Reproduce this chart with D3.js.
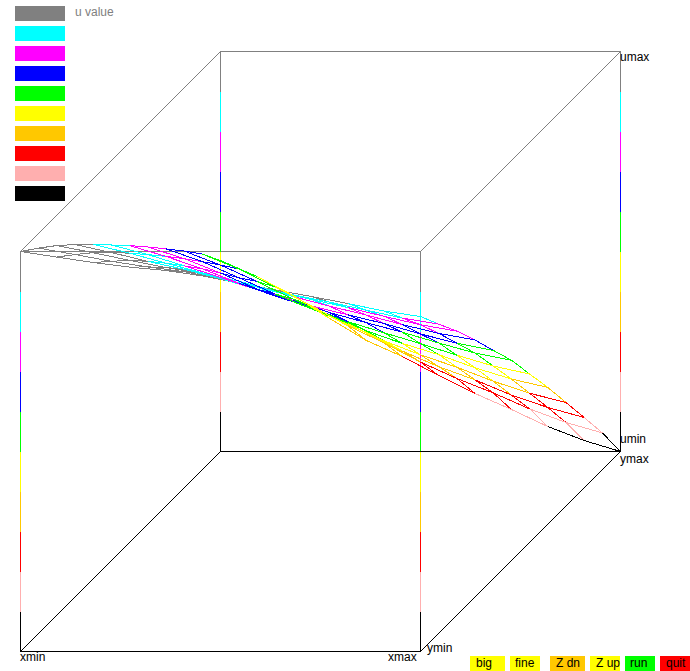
<!DOCTYPE html>
<html lang="en">
<head>
    <meta charset="UTF-8">
    <title>u value surface</title>
    <script src="https://cdn.jsdelivr.net/npm/d3@7"></script>
    <style>
        body { margin: 0; background: #fff; }
        svg { display: block; }
        text { font-family: "Liberation Sans", Arial, sans-serif; font-size: 12px; }
        line { shape-rendering: crispEdges; }
    </style>
</head>
<body>
    <div id="chart"></div>
    <script>
        // u colour levels, top of the range first
        const levelColors = ['#808080', '#00ffff', '#ff00ff', '#0000ff', '#00ff00',
                             '#ffff00', '#ffc800', '#ff0000', '#ffafaf', '#000000']

        // u on the 12 x 12 mesh, one row per y step
        const uY0  = [1, .986, .9725, .961, .9525, .939, .921, .904, .8875, .87, .851, .8375]
        const uY1  = [.963, .947, .930, .916, .904, .887, .866, .846, .828, .808, .788, .773]
        const uY2  = [.924, .906, .887, .869, .854, .835, .810, .789, .769, .747, .726, .710]
        const uY3  = [.881, .861, .839, .819, .796, .775, .751, .727, .705, .681, .659, .6425]
        const uY4  = [.836, .814, .789, .765, .737, .710, .682, .660, .638, .612, .589, .571]
        const uY5  = [.789, .765, .737, .708, .678, .650, .620, .595, .571, .544, .519, .501]
        const uY6  = [.742, .715, .684, .648, .616, .587, .552, .524, .497, .468, .441, .421]
        const uY7  = [.693, .664, .628, .588, .556, .523, .484, .452, .424, .391, .363, .342]
        const uY8  = [.643, .611, .571, .530, .493, .456, .413, .378, .347, .312, .282, .259]
        const uY9  = [.592, .557, .516, .472, .429, .388, .342, .303, .270, .232, .201, .176]
        const uY10 = [.539, .502, .457, .410, .360, .317, .269, .228, .192, .152, .118, .092]
        const uY11 = [.4775, .4375, .39, .3325, .278, .2375, .19, .145, .105, .0625, .0275, 0]
        const uRows = [uY0, uY1, uY2, uY3, uY4, uY5, uY6, uY7, uY8, uY9, uY10, uY11]

        const buttonLabels = ['big', 'fine', 'Z dn', 'Z up', 'run', 'quit']
        const buttonColors = ['#ffff00', '#ffff00', '#ffc800', '#ffff00', '#00ff00', '#ff0000']

        let w = 690
        let h = 671
        let n = uRows.length - 1

        let svg = d3.select('#chart').append('svg')
        svg.attr('width', w)
           .attr('height', h)

        let xScale = d3.scaleLinear().domain([0, 1]).range([0, 400])
        let yScale = d3.scaleLinear().domain([0, 1]).range([0, 200])
        let uScale = d3.scaleLinear().domain([0, 1]).range([0, 400])
        let colorScale = d3.scaleQuantize().domain([0, 1]).range(levelColors.slice().reverse())

        // oblique projection of the box on to the page
        const px = (x, y) => 20 + xScale(x) + yScale(y)
        const py = (y, u) => 651 - yScale(y) - uScale(u)

        function seg(g, p, q, color) {
            g.append('line')
             .attr('x1', px(p[0], p[1])).attr('y1', py(p[1], p[2]))
             .attr('x2', px(q[0], q[1])).attr('y2', py(q[1], q[2]))
             .attr('stroke', color)
             .attr('stroke-width', 1)
        }

        let plot = svg.append('g').attr('transform', 'translate(0.5, 0.5)')

        // box: top face grey, bottom face black, uprights stepped through the levels
        let box = plot.append('g')
        const corners = [[0, 0], [1, 0], [1, 1], [0, 1]]
        corners.forEach((c, i) => {
            let d = corners[(i + 1) % 4]
            seg(box, [c[0], c[1], 1], [d[0], d[1], 1], levelColors[0])
            seg(box, [c[0], c[1], 0], [d[0], d[1], 0], levelColors[9])
            levelColors.forEach((col, k) => {
                seg(box, [c[0], c[1], 1 - k / 10], [c[0], c[1], 1 - (k + 1) / 10], col)
            })
        })

        // mesh, colour taken from the start of each segment
        // (the colours sit slightly behind the height towards xmin)
        let mesh = plot.append('g')
        const level = (i, u) => colorScale(Math.min(1, u + 0.05 * (1 - i / n)))
        uRows.forEach((row, j) => {
            row.forEach((u, i) => {
                if (i < n) seg(mesh, [i / n, j / n, u], [(i + 1) / n, j / n, row[i + 1]], level(i, u))
                if (j < n) seg(mesh, [i / n, j / n, u], [i / n, (j + 1) / n, uRows[j + 1][i]], level(i, u))
            })
        })

        // colour key
        let keyY = d3.scaleLinear().domain([0, 1]).range([6, 26])
        svg.selectAll('.key')
           .data(levelColors)
           .enter()
           .append('rect')
           .attr('class', 'key')
           .attr('x', 15)
           .attr('y', (d, i) => keyY(i))
           .attr('width', 50)
           .attr('height', 15)
           .attr('fill', d => d)
        svg.append('text').attr('x', 75).attr('y', 16).attr('fill', '#808080').text('u value')

        // axis end labels
        const label = (x, y, t) => svg.append('text').attr('x', x).attr('y', y).attr('fill', '#000').text(t)
        label(20, 661, 'xmin')
        label(388, 661, 'xmax')
        label(427, 652, 'ymin')
        label(620, 463, 'ymax')
        label(620, 443, 'umin')
        label(620, 61, 'umax')

        // buttons along the bottom edge
        const buttonBox = [[470, 35, 476], [510, 30, 515], [550, 35, 556], [590, 30, 596], [625, 30, 630], [660, 30, 666]]
        buttonLabels.forEach((t, i) => {
            let b = buttonBox[i]
            svg.append('rect').attr('x', b[0]).attr('y', 656).attr('width', b[1]).attr('height', 15).attr('fill', buttonColors[i])
            svg.append('text').attr('x', b[2]).attr('y', 667).attr('fill', '#000').text(t)
        })
    </script>
</body>
</html>
